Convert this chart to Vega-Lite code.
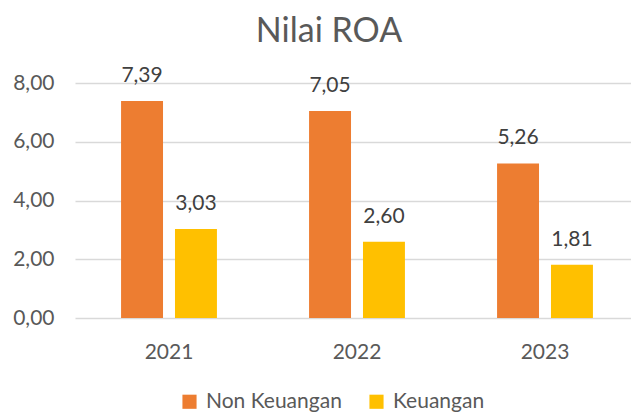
{
  "$schema": "https://vega.github.io/schema/vega-lite/v6.json",
  "width": 564,
  "height": 235,
  "autosize": {"type": "none"},
  "padding": {"left": 75, "top": 83, "right": 0, "bottom": 95},
  "config": {
    "font": "Lato",
    "view": {"stroke": null},
    "locale": {"number": {"decimal": ",", "thousands": ".", "grouping": [3], "currency": ["", ""]}}
  },
  "title": {"text": "Nilai ROA", "fontSize": 34, "font": "Lato", "fontWeight": "normal", "color": "#595959", "anchor": "middle", "offset": 16, "dx": -28},
  "data": {"values": [
    {"tahun": "2021", "kategori": "Non Keuangan", "nilai": 7.39},
    {"tahun": "2021", "kategori": "Keuangan", "nilai": 3.03},
    {"tahun": "2022", "kategori": "Non Keuangan", "nilai": 7.05},
    {"tahun": "2022", "kategori": "Keuangan", "nilai": 2.60},
    {"tahun": "2023", "kategori": "Non Keuangan", "nilai": 5.26},
    {"tahun": "2023", "kategori": "Keuangan", "nilai": 1.81}
  ]},
  "encoding": {
    "x": {"field": "tahun", "type": "nominal", "title": null,
      "scale": {"paddingInner": 0.49, "paddingOuter": 0.245},
      "axis": {"labelAngle": 0, "labelFontSize": 21, "labelColor": "#595959", "ticks": false, "domain": false, "labelPadding": 23, "grid": false}},
    "xOffset": {"field": "kategori", "type": "nominal", "sort": ["Non Keuangan", "Keuangan"], "scale": {"paddingInner": 0.222, "paddingOuter": 0}},
    "y": {"field": "nilai", "type": "quantitative", "title": null,
      "scale": {"domain": [0, 8], "nice": false},
      "axis": {"values": [0, 2, 4, 6, 8], "format": ".2f", "labelFontSize": 21, "labelColor": "#595959", "ticks": false, "domain": false, "labelPadding": 21, "gridColor": "#d9d9d9", "gridWidth": 1.3}}
  },
  "layer": [
    {
      "mark": {"type": "bar"},
      "encoding": {
        "color": {"field": "kategori", "type": "nominal", "sort": ["Non Keuangan", "Keuangan"],
          "scale": {"domain": ["Non Keuangan", "Keuangan"], "range": ["#ED7D31", "#FFC000"]},
          "legend": {"title": null, "orient": "none", "direction": "horizontal", "legendX": 104, "legendY": 308, "symbolType": "square", "symbolSize": 200, "symbolStrokeWidth": 0, "labelFontSize": 21, "labelColor": "#595959", "columnPadding": 24, "labelOffset": 6}}
      }
    },
    {
      "mark": {"type": "text", "dy": -25, "fontSize": 21, "color": "#404040"},
      "encoding": {
        "text": {"field": "nilai", "type": "quantitative", "format": ".2f"}
      }
    }
  ]
}
